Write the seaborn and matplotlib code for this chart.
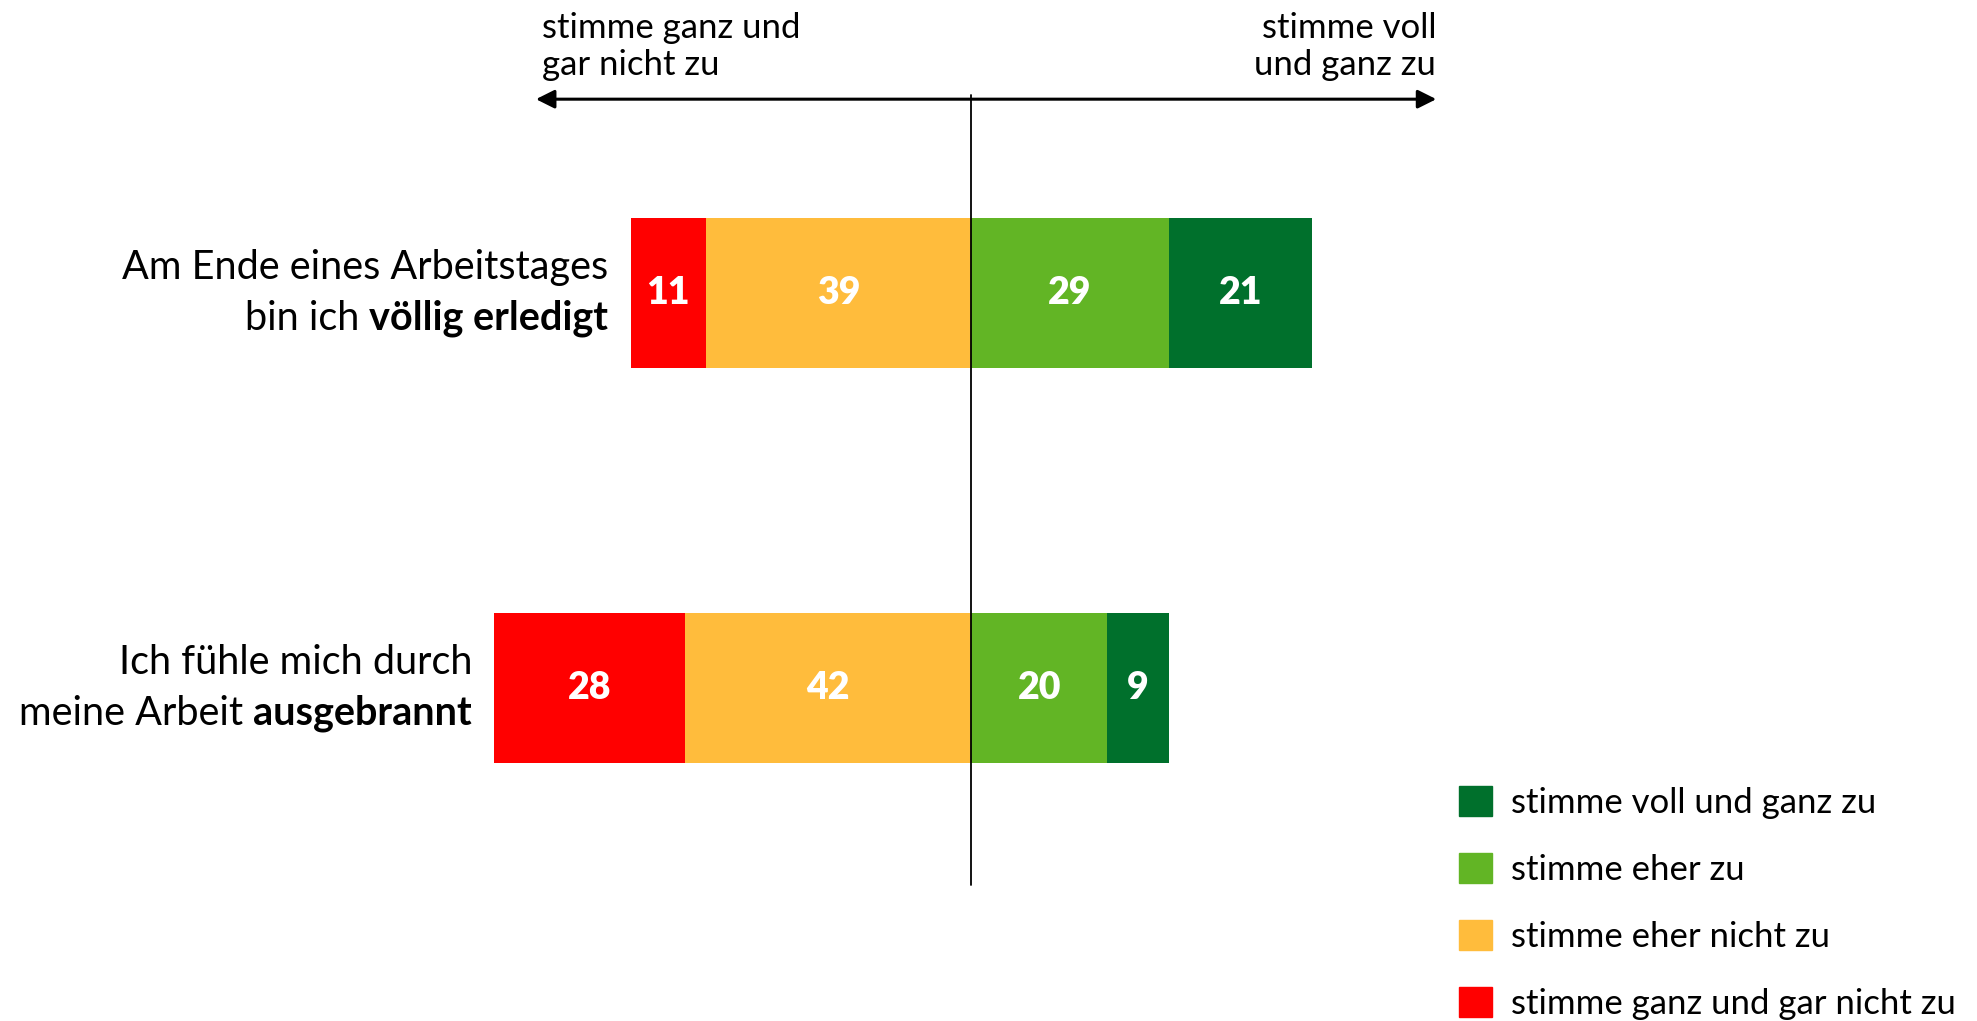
import matplotlib.pyplot as plt
import pandas as pd
import seaborn as sns
from matplotlib.patches import Patch

# survey items (label split so the emphasised part can be bold)
ITEM_KEYS = ["erledigt", "ausgebrannt"]
ITEM_LINE1 = ["Am Ende eines Arbeitstages", "Ich fühle mich durch"]
ITEM_LINE2 = ["bin ich ", "meine Arbeit "]
ITEM_BOLD = ["völlig erledigt", "ausgebrannt"]

RESPONSES = [
    "stimme ganz und gar nicht zu",
    "stimme eher nicht zu",
    "stimme eher zu",
    "stimme voll und ganz zu",
]
GAR_NICHT = [11, 28]
EHER_NICHT = [39, 42]
EHER_ZU = [29, 20]
VOLL = [21, 9]

PALETTE = {
    "stimme ganz und gar nicht zu": "#FF0000",
    "stimme eher nicht zu": "#FFBC3C",
    "stimme eher zu": "#62B525",
    "stimme voll und ganz zu": "#00702C",
}

AXIS_LEFT = "stimme ganz und\ngar nicht zu"
AXIS_RIGHT = "stimme voll\nund ganz zu"

FONT = "Lato"

# diverging stack: outer segments drawn first, inner ones overlaid
rows = []
for i, key in enumerate(ITEM_KEYS):
    rows.append((key, RESPONSES[0], -(GAR_NICHT[i] + EHER_NICHT[i])))
    rows.append((key, RESPONSES[3], EHER_ZU[i] + VOLL[i]))
    rows.append((key, RESPONSES[1], -EHER_NICHT[i]))
    rows.append((key, RESPONSES[2], EHER_ZU[i]))
df = pd.DataFrame(rows, columns=["item", "response", "extent"])

sns.set_style("white")
plt.rcParams["font.family"] = [FONT, "DejaVu Sans"]
plt.rcParams["text.color"] = "black"

fig = plt.figure(figsize=(19.77, 10.21), dpi=100)
ax = fig.add_axes([0, 0, 1, 1])

sns.barplot(
    data=df,
    x="extent",
    y="item",
    hue="response",
    order=ITEM_KEYS,
    hue_order=[RESPONSES[0], RESPONSES[3], RESPONSES[1], RESPONSES[2]],
    palette=PALETTE,
    dodge=False,
    width=0.38,
    saturation=1,
    linewidth=0,
    errorbar=None,
    legend=False,
    orient="y",
    ax=ax,
)

ax.set_xlim(-142.6, 147.7)
ax.set_ylim(1.843, -0.741)
ax.axis("off")

# numbers inside the segments
for i in range(len(ITEM_KEYS)):
    segs = [
        (-(GAR_NICHT[i] + EHER_NICHT[i]), GAR_NICHT[i]),
        (-EHER_NICHT[i], EHER_NICHT[i]),
        (0, EHER_ZU[i]),
        (EHER_ZU[i], VOLL[i]),
    ]
    for start, val in segs:
        ax.text(start + val / 2, i, str(val), ha="center", va="center",
                color="white", fontsize=27, fontweight="heavy")

    # item label, right aligned next to the bar
    left = -(GAR_NICHT[i] + EHER_NICHT[i])
    bold = ax.annotate(ITEM_BOLD[i], xy=(left, i), xytext=(-16, -18),
                       textcoords="offset points", ha="right", va="center",
                       fontsize=28.5, fontweight="bold")
    ax.annotate(ITEM_LINE2[i], xy=(0, 0), xycoords=bold, ha="right",
                va="bottom", fontsize=28.5)
    ax.annotate(ITEM_LINE1[i], xy=(left, i), xytext=(-16, 18),
                textcoords="offset points", ha="right", va="center",
                fontsize=28.5)

# centre line and scale arrow
ax.plot([0, 0], [-0.5, 1.5], color="black", lw=1.3, zorder=5)
arrow_l, arrow_r, arrow_y = -63.9, 68.3, -0.49
ax.annotate("", xy=(arrow_l, arrow_y), xytext=(arrow_r, arrow_y),
            arrowprops=dict(arrowstyle="<|-|>", color="black", lw=2.2,
                            mutation_scale=28, shrinkA=0, shrinkB=0))
ax.annotate(AXIS_LEFT, xy=(arrow_l, arrow_y), xytext=(4, 13),
            textcoords="offset points", ha="left", va="bottom", fontsize=25)
ax.annotate(AXIS_RIGHT, xy=(arrow_r, arrow_y), xytext=(0, 13),
            textcoords="offset points", ha="right", va="bottom",
            multialignment="right", fontsize=25)

handles = [Patch(color=PALETTE[r]) for r in RESPONSES[::-1]]
fig.legend(handles, RESPONSES[::-1], loc="upper left",
           bbox_to_anchor=(1459 / 1977, 1 - 786 / 1021), frameon=False,
           fontsize=25, handlelength=0.95, handleheight=0.95,
           handletextpad=0.55, labelspacing=0.98, borderaxespad=0,
           borderpad=0)

fig.savefig("out.png", dpi=100, facecolor="white")
